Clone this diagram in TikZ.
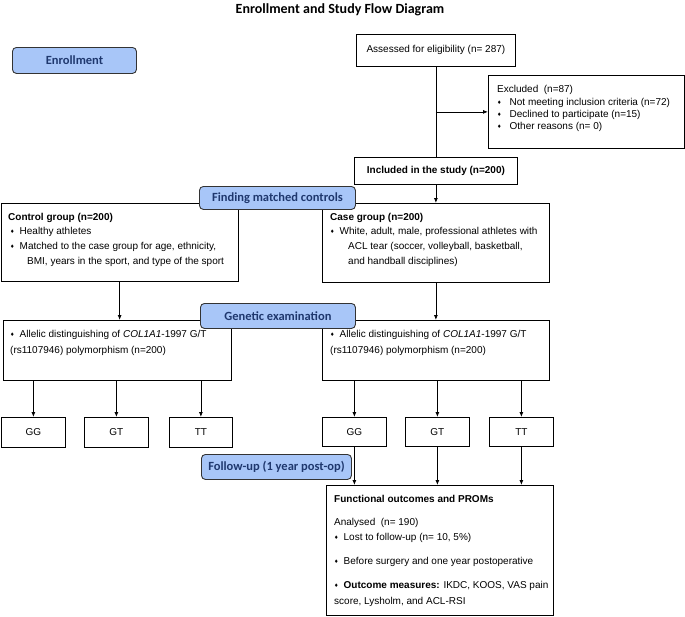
\documentclass[tikz,border=0pt]{standalone}
\usepackage{fontspec}
\setmainfont{Liberation Sans}
\newfontfamily\carl{Carlito}
\newfontfamily\djv{DejaVu Sans}
\usetikzlibrary{arrows.meta,calc}
\definecolor{hdrfill}{RGB}{168,198,248}
\definecolor{hdrtext}{RGB}{31,56,110}
\newcommand\bul[1][5pt]{{\djv\fontsize{5}{5}\selectfont\raisebox{1pt}{♦}}\hspace{#1}}
\begin{document}
\begin{tikzpicture}[x=1pt,y=-1pt,
  box/.style={draw=black, line width=0.8pt, inner sep=0pt, anchor=north west, font=\fontsize{10}{12}\selectfont},
  hdr/.style={draw=black!80, line width=0.9pt, fill=hdrfill, rounded corners=4pt, text=hdrtext, font=\carl\bfseries\fontsize{12.5}{14}\selectfont, inner sep=0pt, anchor=north west},
  txt/.style={anchor=west, inner sep=0pt, font=\fontsize{10}{12}\selectfont, text height=7pt, text depth=2pt},
  line/.style={line width=0.8pt},
  arr/.style={-{Latex[length=5pt,width=4pt]}, line width=0.8pt}]
\useasboundingbox[fill=white] (0,0) rectangle (685,616);

\node[font=\carl\bfseries\fontsize{14}{16}\selectfont] (title) at (340,10) {Enrollment and Study Flow Diagram};

% boxes
\node[box, minimum width=159, minimum height=32] (assess) at (356,34) {Assessed for eligibility (n= 287)};
\node[box, minimum width=196, minimum height=73] (excl) at (488,75) {};
\node[box, minimum width=163, minimum height=27, font=\fontsize{10}{12}\selectfont\bfseries] (incl) at (354,157) {Included in the study (n=200)};
\node[box, minimum width=237.5, minimum height=78] (ctrl) at (0.5,203) {};
\node[box, minimum width=227, minimum height=79] (case) at (322,203) {};
\node[box, minimum width=228, minimum height=60] (genoL) at (3,320) {};
\node[box, minimum width=227, minimum height=60] (genoR) at (322,320) {};
\node[box, minimum width=64, minimum height=30] (ggL) at (1,417) {GG};
\node[box, minimum width=64, minimum height=30] (gtL) at (84,417) {GT};
\node[box, minimum width=63, minimum height=30] (ttL) at (169,417) {TT};
\node[box, minimum width=64, minimum height=29] (ggR) at (322,417) {GG};
\node[box, minimum width=64, minimum height=29] (gtR) at (405,417) {GT};
\node[box, minimum width=64, minimum height=29] (ttR) at (489,417) {TT};
\node[box, minimum width=227, minimum height=130] (func) at (326,485) {};

% texts
\node[txt] (ex0) at (497,90) {Excluded\ \ (n=87)};
\node[txt] (ex1) at (497,103) {\bul[8pt]Not meeting inclusion criteria (n=72)};
\node[txt] (ex2) at (497,115) {\bul[8pt]Declined to participate (n=15)};
\node[txt] (ex3) at (497,127) {\bul[8pt]Other reasons (n= 0)};

\node[txt, font=\fontsize{10}{12}\selectfont\bfseries] (c0) at (8,218) {Control group (n=200)};
\node[txt] (c1) at (10,232) {\bul Healthy athletes};
\node[txt] (c2) at (10,247) {\bul Matched to the case group for age, ethnicity,};
\node[txt] (c3) at (27,262) {BMI, years in the sport, and type of the sport};

\node[txt, font=\fontsize{10}{12}\selectfont\bfseries] (k0) at (330,218) {Case group (n=200)};
\node[txt] (k1) at (330,232) {\bul White, adult, male, professional athletes with};
\node[txt] (k2) at (348,247) {ACL tear (soccer, volleyball, basketball,};
\node[txt] (k3) at (348,262) {and handball disciplines)};

\node[txt] (gl1) at (10,335) {\bul Allelic distinguishing of \textit{COL1A1}-1997 G/T};
\node[txt] (gl2) at (10,351) {(rs1107946) polymorphism (n=200)};
\node[txt] (gr1) at (330,335) {\bul Allelic distinguishing of \textit{COL1A1}-1997 G/T};
\node[txt] (gr2) at (330,351) {(rs1107946) polymorphism (n=200)};

\node[txt, font=\fontsize{10}{12}\selectfont\bfseries] (f0) at (334,500) {Functional outcomes and PROMs};
\node[txt] (f1) at (334,523) {Analysed\ \ (n= 190)};
\node[txt] (f2) at (334,538) {\bul Lost to follow-up (n= 10, 5\%)};
\node[txt] (f3) at (334,562) {\bul Before surgery and one year postoperative};
\node[txt] (f4) at (334,586) {\bul \textbf{Outcome measures:} IKDC, KOOS, VAS pain};
\node[txt] (f5) at (334,602) {score, Lysholm, and ACL-RSI};

% connectors
\draw[line] (assess.south) -- (incl.north);
\coordinate (br) at (assess.south |- excl.west);
\draw[arr] (br) -- (excl.west);
\draw[arr] (incl.south) -- (incl.south |- case.north);
\draw[arr] (ctrl.south) -- (ctrl.south |- genoL.north);
\draw[arr] (case.south) -- (case.south |- genoR.north);
\foreach \n in {ggL,gtL,ttL}{\draw[arr] (genoL.south -| \n.north) -- (\n.north);}
\foreach \n in {ggR,gtR,ttR}{\draw[arr] (genoR.south -| \n.north) -- (\n.north);}
\foreach \n in {ggR,gtR,ttR}{\draw[arr] (\n.south) -- (\n.south |- func.north);}

% headers
\node[hdr, minimum width=124, minimum height=26] (enr) at (12,47) {Enrollment};
\node[hdr, minimum width=156, minimum height=23] (match) at (199,186) {Finding matched controls};
\node[hdr, minimum width=155, minimum height=25] (gen) at (200,303) {Genetic examination};
\node[hdr, minimum width=150, minimum height=25] (fup) at (201,454) {Follow-up (1 year post-op)};
\end{tikzpicture}
\end{document}
